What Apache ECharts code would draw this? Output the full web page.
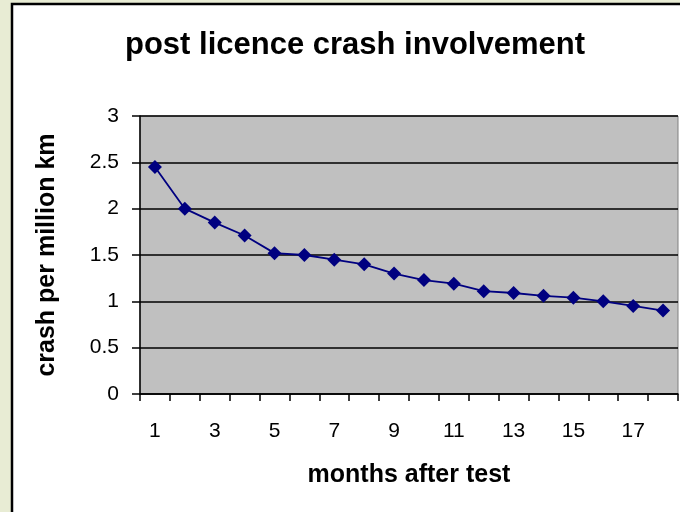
<!DOCTYPE html>
<html lang="en">
<head>
    <meta charset="utf-8">
    <title>post licence crash involvement</title>
    <style>
        html, body { margin: 0; padding: 0; background: #E8ECD4; }
    </style>
</head>
<body>
    <div id="main" style="width:680px;height:512px;"></div>
    <script src="https://cdn.jsdelivr.net/npm/echarts@6/dist/echarts.min.js"></script>
    <script type="text/javascript">
        var months = ['1', '2', '3', '4', '5', '6', '7', '8', '9', '10', '11', '12', '13', '14', '15', '16', '17', '18'];
        var crashRate = [2.45, 2.0, 1.85, 1.71, 1.52, 1.50, 1.45, 1.40, 1.30, 1.23, 1.19, 1.11, 1.09, 1.06, 1.04, 1.0, 0.95, 0.90];

        var font = 'Liberation Sans, Arial, sans-serif';
        var myChart = echarts.init(document.getElementById('main'));

        var option = {
            backgroundColor: '#E8ECD4',
            animation: false,
            graphic: [{
                type: 'rect',
                z: -10,
                shape: { x: 12, y: 4, width: 720, height: 560 },
                style: { fill: '#ffffff', stroke: '#000000', lineWidth: 2.5 }
            }],
            title: {
                text: 'post licence crash involvement',
                left: 350,
                textAlign: 'center',
                top: 25,
                textStyle: { fontFamily: font, fontSize: 31, fontWeight: 'bold', color: '#000' }
            },
            grid: {
                left: 140,
                top: 116,
                right: 2,
                bottom: 118,
                show: true,
                backgroundColor: '#C0C0C0',
                borderColor: '#808080',
                borderWidth: 1
            },
            xAxis: {
                type: 'category',
                data: months,
                boundaryGap: true,
                name: 'months after test',
                nameLocation: 'middle',
                nameGap: 69,
                nameTextStyle: { fontFamily: font, fontSize: 25, fontWeight: 'bold', color: '#000' },
                axisLine: { lineStyle: { color: '#000', width: 1.5 } },
                axisTick: { show: true, interval: 0, length: 7, lineStyle: { color: '#000', width: 1.5 } },
                axisLabel: { interval: 1, margin: 27, fontFamily: font, fontSize: 21, color: '#000' }
            },
            yAxis: {
                type: 'value',
                min: 0,
                max: 3,
                interval: 0.5,
                name: 'crash per million km',
                nameLocation: 'middle',
                nameGap: 80,
                nameTextStyle: { fontFamily: font, fontSize: 25, fontWeight: 'bold', color: '#000' },
                axisLine: { show: true, lineStyle: { color: '#000', width: 1.5 } },
                axisTick: { show: true, length: 8, lineStyle: { color: '#000', width: 1.5 } },
                axisLabel: { margin: 21, fontFamily: font, fontSize: 21, color: '#000' },
                splitLine: { show: true, lineStyle: { color: '#000', width: 1.5 } }
            },
            series: [{
                type: 'line',
                data: crashRate,
                symbol: 'diamond',
                symbolSize: 14,
                itemStyle: { color: '#000080' },
                lineStyle: { color: '#000080', width: 1.8 }
            }]
        };
        myChart.setOption(option);
    </script>
</body>
</html>
